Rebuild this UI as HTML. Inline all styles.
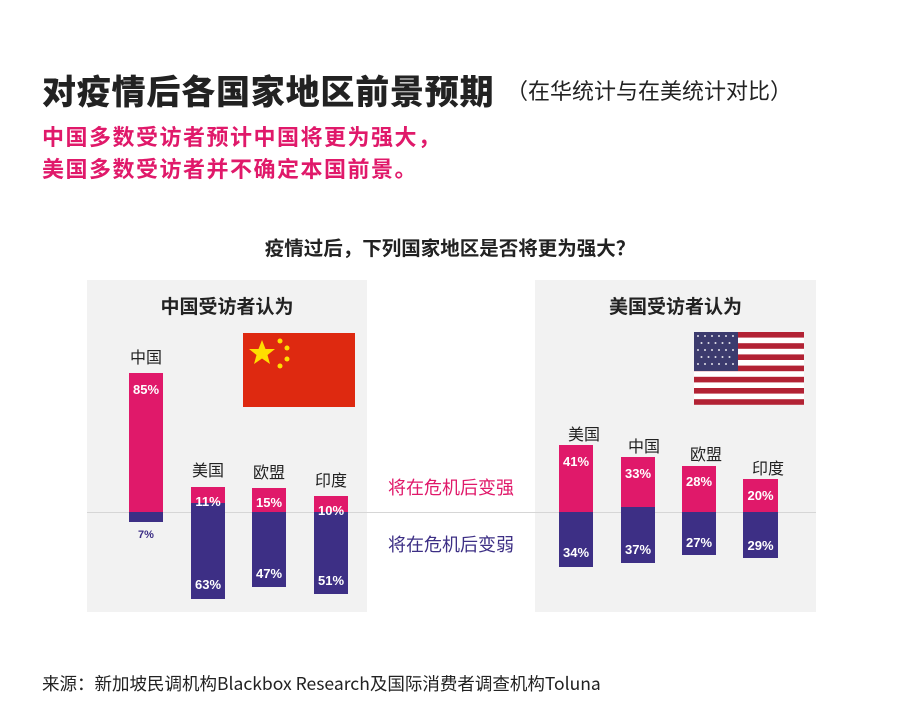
<!DOCTYPE html>
<html><head><meta charset="utf-8">
<style>
body{margin:0;width:900px;height:719px;background:#fff;position:relative;overflow:hidden;font-family:"Liberation Sans","Noto Sans CJK SC",sans-serif;}
.a{position:absolute;white-space:nowrap;}
.panel{position:absolute;background:#f2f2f2;}
.bar{position:absolute;}
.p{background:#e0196a;}
.u{background:#3d2f85;}
.v{position:absolute;color:#fff;font-weight:bold;font-size:13px;width:34px;text-align:center;}
.lab{position:absolute;font-size:16px;color:#222;width:60px;text-align:center;}
</style></head><body>
<div class="a" style="left:42px;top:65px;font-size:34px;font-weight:900;color:#222;letter-spacing:0.8px;">对疫情后各国家地区前景预期</div>
<div class="a" style="left:506px;top:74px;font-size:22px;color:#222;">（在华统计与在美统计对比）</div>
<div class="a" style="left:42px;top:120px;font-size:22px;font-weight:bold;color:#e0196a;letter-spacing:1.5px;">中国多数受访者预计中国将更为强大，</div>
<div class="a" style="left:42px;top:152px;font-size:22px;font-weight:bold;color:#e0196a;letter-spacing:1.5px;">美国多数受访者并不确定本国前景。</div>
<div class="a" style="left:0;width:900px;text-align:center;top:232px;font-size:19.5px;font-weight:bold;color:#222;">疫情过后，下列国家地区是否将更为强大？</div>

<div class="panel" style="left:87px;top:280px;width:280px;height:332px;"></div>
<div class="panel" style="left:535px;top:280px;width:281px;height:332px;"></div>
<div class="a" style="left:87px;top:512px;width:729px;height:1px;background:#d6d6d6;"></div>

<div class="a" style="left:87px;width:280px;text-align:center;top:292px;font-size:19px;font-weight:bold;color:#222;">中国受访者认为</div>
<div class="a" style="left:535px;width:281px;text-align:center;top:292px;font-size:19px;font-weight:bold;color:#222;">美国受访者认为</div>

<svg class="a" style="left:243px;top:333px" width="112" height="74" viewBox="0 0 112 74">
<rect width="112" height="74" fill="#de2910"/>
<polygon fill="#ffde00" points="19,7 22.5,16 32,16 24.5,22 27,31 19,25.5 11,31 13.5,22 6,16 15.5,16"/>
<circle cx="37" cy="8" r="2.5" fill="#ffde00"/><circle cx="44" cy="15" r="2.5" fill="#ffde00"/>
<circle cx="44" cy="26" r="2.5" fill="#ffde00"/><circle cx="37" cy="33" r="2.5" fill="#ffde00"/>
</svg>
<svg class="a" style="left:694px;top:332px" width="110" height="73" viewBox="0 0 110 73">
<rect width="110" height="73" fill="#fff"/>
<g fill="#b22234">
<rect y="0" width="110" height="5.6"/><rect y="11.2" width="110" height="5.6"/><rect y="22.4" width="110" height="5.6"/><rect y="33.6" width="110" height="5.6"/><rect y="44.8" width="110" height="5.6"/><rect y="56" width="110" height="5.6"/><rect y="67.2" width="110" height="5.6"/>
</g>
<rect width="44" height="39" fill="#3c3b6e"/>
<g fill="#fff" opacity="0.85">
<circle cx="4" cy="4" r="1"/><circle cx="11" cy="4" r="1"/><circle cx="18" cy="4" r="1"/><circle cx="25" cy="4" r="1"/><circle cx="32" cy="4" r="1"/><circle cx="39" cy="4" r="1"/>
<circle cx="7.5" cy="11" r="1"/><circle cx="14.5" cy="11" r="1"/><circle cx="21.5" cy="11" r="1"/><circle cx="28.5" cy="11" r="1"/><circle cx="35.5" cy="11" r="1"/>
<circle cx="4" cy="18" r="1"/><circle cx="11" cy="18" r="1"/><circle cx="18" cy="18" r="1"/><circle cx="25" cy="18" r="1"/><circle cx="32" cy="18" r="1"/><circle cx="39" cy="18" r="1"/>
<circle cx="7.5" cy="25" r="1"/><circle cx="14.5" cy="25" r="1"/><circle cx="21.5" cy="25" r="1"/><circle cx="28.5" cy="25" r="1"/><circle cx="35.5" cy="25" r="1"/>
<circle cx="4" cy="32" r="1"/><circle cx="11" cy="32" r="1"/><circle cx="18" cy="32" r="1"/><circle cx="25" cy="32" r="1"/><circle cx="32" cy="32" r="1"/><circle cx="39" cy="32" r="1"/>
</g>
</svg>

<div class="lab" style="left:116px;top:344px;">中国</div>
<div class="bar p" style="left:129px;top:373px;width:34px;height:139px;"></div>
<div class="bar u" style="left:129px;top:512px;width:34px;height:10px;"></div>
<div class="v" style="left:129px;top:382px;">85%</div>
<div class="v" style="left:129px;top:529px;color:#3d2f85;font-size:11px;">7%</div>

<div class="lab" style="left:178px;top:457px;">美国</div>
<div class="bar p" style="left:191px;top:487px;width:34px;height:16px;"></div>
<div class="bar u" style="left:191px;top:503px;width:34px;height:96px;"></div>
<div class="v" style="left:191px;top:494px;">11%</div>
<div class="v" style="left:191px;top:577px;">63%</div>

<div class="lab" style="left:239px;top:459px;">欧盟</div>
<div class="bar p" style="left:252px;top:488px;width:34px;height:24px;"></div>
<div class="bar u" style="left:252px;top:512px;width:34px;height:75px;"></div>
<div class="v" style="left:252px;top:495px;">15%</div>
<div class="v" style="left:252px;top:566px;">47%</div>

<div class="lab" style="left:301px;top:467px;">印度</div>
<div class="bar p" style="left:314px;top:496px;width:34px;height:16px;"></div>
<div class="bar u" style="left:314px;top:512px;width:34px;height:82px;"></div>
<div class="v" style="left:314px;top:503px;">10%</div>
<div class="v" style="left:314px;top:573px;">51%</div>

<div class="a" style="left:388px;top:474px;font-size:18px;color:#e0196a;">将在危机后变强</div>
<div class="a" style="left:388px;top:531px;font-size:18px;color:#3d2f85;">将在危机后变弱</div>

<div class="lab" style="left:554px;top:421px;">美国</div>
<div class="bar p" style="left:559px;top:445px;width:34px;height:67px;"></div>
<div class="bar u" style="left:559px;top:512px;width:34px;height:55px;"></div>
<div class="v" style="left:559px;top:454px;">41%</div>
<div class="v" style="left:559px;top:545px;">34%</div>

<div class="lab" style="left:614px;top:433px;">中国</div>
<div class="bar p" style="left:621px;top:457px;width:34px;height:50px;"></div>
<div class="bar u" style="left:621px;top:507px;width:34px;height:56px;"></div>
<div class="v" style="left:621px;top:466px;">33%</div>
<div class="v" style="left:621px;top:542px;">37%</div>

<div class="lab" style="left:676px;top:441px;">欧盟</div>
<div class="bar p" style="left:682px;top:466px;width:34px;height:46px;"></div>
<div class="bar u" style="left:682px;top:512px;width:34px;height:43px;"></div>
<div class="v" style="left:682px;top:474px;">28%</div>
<div class="v" style="left:682px;top:535px;">27%</div>

<div class="lab" style="left:738px;top:455px;">印度</div>
<div class="bar p" style="left:743px;top:479px;width:35px;height:33px;"></div>
<div class="bar u" style="left:743px;top:512px;width:35px;height:46px;"></div>
<div class="v" style="left:743px;top:488px;width:35px;">20%</div>
<div class="v" style="left:743px;top:538px;width:35px;">29%</div>

<div class="a" style="left:42px;top:671px;font-size:17.5px;color:#222;font-family:'Noto Sans CJK SC',sans-serif;">来源：新加坡民调机构Blackbox Research及国际消费者调查机构Toluna</div>
</body></html>
